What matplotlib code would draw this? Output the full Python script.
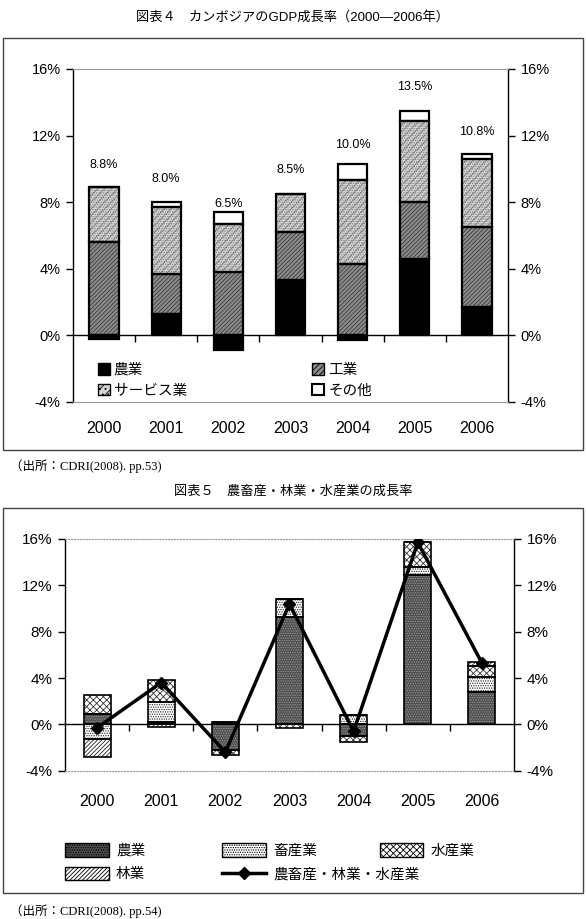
import matplotlib
matplotlib.use("Agg")
import matplotlib.pyplot as plt
from matplotlib.patches import Rectangle, Patch
from matplotlib.lines import Line2D

plt.rcParams['font.family'] = ['Liberation Sans', 'Noto Sans CJK JP']
plt.rcParams['hatch.linewidth'] = 0.6

years = ["2000", "2001", "2002", "2003", "2004", "2005", "2006"]
y_ticks = [-4, 0, 4, 8, 12, 16]

# 図表4: contributions to GDP growth (%)
gdp_agri = [-0.2, 1.3, -0.9, 3.3, -0.3, 4.6, 1.7]
gdp_industry = [5.6, 2.4, 3.8, 2.9, 4.3, 3.4, 4.8]
gdp_services = [3.3, 4.0, 2.9, 2.3, 5.0, 4.9, 4.1]
gdp_other = [0.0, 0.3, 0.7, 0.0, 1.0, 0.6, 0.3]
gdp_total = [8.8, 8.0, 6.5, 8.5, 10.0, 13.5, 10.8]
gdp_labels = ["8.8%", "8.0%", "6.5%", "8.5%", "10.0%", "13.5%", "10.8%"]

# 図表5: agriculture, livestock, forestry, fishery growth (%)
crops = [0.9, 0.2, -2.2, 9.3, -1.0, 12.9, 2.8]
livestock = [-1.3, 1.75, 0.2, 1.5, 0.8, 0.7, 1.3]
fishery = [1.6, 1.85, -0.45, -0.3, -0.5, 2.15, 0.9]
forestry = [-1.5, -0.2, 0.0, 0.0, 0.0, 0.0, 0.4]
primary_total = [-0.3, 3.6, -2.4, 10.4, -0.6, 15.7, 5.3]


def stacked(ax, x, series, styles, width, edge_lw):
    pos = [0.0] * len(x)
    neg = [0.0] * len(x)
    for vals, (face, hatch, hcol) in zip(series, styles):
        bottoms = [pos[i] if v >= 0 else neg[i] for i, v in enumerate(vals)]
        ax.bar(x, vals, width, bottom=bottoms, color=face, hatch=hatch,
               edgecolor=hcol, linewidth=0, zorder=2)
        ax.bar(x, vals, width, bottom=bottoms, fill=False,
               edgecolor='black', linewidth=edge_lw, zorder=3)
        for i, v in enumerate(vals):
            if v >= 0:
                pos[i] += v
            else:
                neg[i] += v


def frame_axes(ax, top_style):
    ax.set_xlim(-0.5, len(years) - 0.5)
    ax.set_ylim(-4, 16)
    ax.set_yticks(y_ticks)
    ax.set_yticklabels([f"{v}%" for v in y_ticks])
    ax.yaxis.set_ticks_position('both')
    ax.tick_params(axis='y', direction='out', length=5, width=1,
                   labelleft=True, labelright=True, pad=4)
    ax.set_xticks(range(len(years)))
    ax.set_xticklabels(years)
    for s in ['left', 'right']:
        ax.spines[s].set_color('black')
        ax.spines[s].set_linewidth(1)
    for s in ['top', 'bottom']:
        ax.spines[s].set_color('#999999')
        ax.spines[s].set_linewidth(0.8)
        ax.spines[s].set_linestyle(top_style)
    # category axis crossing at 0%
    zero = ax.secondary_xaxis(0.2)
    zero.set_xticks([i + 0.5 for i in range(len(years) - 1)])
    zero.tick_params(direction='out', length=5, width=1, labelbottom=False)
    zero.spines['bottom'].set_color('black')
    zero.spines['bottom'].set_linewidth(1)


fig = plt.figure(figsize=(5.86, 9.19), dpi=100)
x = list(range(len(years)))

# ---------------- 図表4 ----------------
fig.text(0.5, 0.9815, "図表４　カンボジアのGDP成長率（2000―2006年）",
         ha='center', va='center', fontsize=9.5)
fig.add_artist(Rectangle((0.005, 0.5103), 0.99, 0.4484, transform=fig.transFigure,
                         fill=False, edgecolor='#444444', linewidth=1))

ax1 = fig.add_axes([0.1246, 0.5626, 0.7423, 0.3624])
ind_style = ('#8c8c8c', '////////', '#3a3a3a')
srv_style = ('#d4d4d4', '/////.......', '#808080')
styles1 = [('black', None, 'black'), ind_style, srv_style, ('white', None, 'white')]
stacked(ax1, x, [gdp_agri, gdp_industry, gdp_services, gdp_other], styles1, 0.47, 1.6)
frame_axes(ax1, 'solid')
ax1.tick_params(axis='y', labelsize=10.5)
ax1.tick_params(axis='x', length=0, pad=14, labelsize=11.5)
for i, (v, lab) in enumerate(zip(gdp_total, gdp_labels)):
    ax1.annotate(lab, (i, v), xytext=(0, 17), textcoords='offset points',
                 ha='center', va='center', fontsize=9)

h1 = [Patch(facecolor='black', edgecolor='black', label='農業'),
      Patch(facecolor=srv_style[0], hatch='///...', edgecolor='black', label='サービス業'),
      Patch(facecolor=ind_style[0], hatch='//////', edgecolor='black', label='工業'),
      Patch(facecolor='white', edgecolor='black', linewidth=1.5, label='その他')]
ax1.legend(handles=h1, ncol=2, loc='upper left', bbox_to_anchor=(0.167, 0.605),
           bbox_transform=fig.transFigure, frameon=False, fontsize=10.5,
           handlelength=0.8, handleheight=0.8, handletextpad=0.3,
           labelspacing=0.45, columnspacing=8.6, borderpad=0, borderaxespad=0)

fig.text(0.017, 0.493, "（出所：CDRI(2008). pp.53)", ha='left', va='center',
         fontsize=9, family=['Liberation Serif', 'Noto Sans CJK JP'])

# ---------------- 図表5 ----------------
fig.text(0.5, 0.4646, "図表５　農畜産・林業・水産業の成長率",
         ha='center', va='center', fontsize=9.5)
fig.add_artist(Rectangle((0.005, 0.028), 0.99, 0.4192, transform=fig.transFigure,
                         fill=False, edgecolor='#444444', linewidth=1))

ax2 = fig.add_axes([0.1109, 0.1614, 0.7662, 0.2521])
st_crops = ('#4e4e4e', '.......', '#9a9a9a')
st_live = ('white', '.......', '#222222')
st_fish = ('white', 'xxxxx', '#333333')
st_forest = ('white', '////////', '#222222')
stacked(ax2, x, [crops, livestock, fishery, forestry],
        [st_crops, st_live, st_fish, st_forest], 0.42, 1.2)
ax2.plot(x, primary_total, color='black', linewidth=2.5, marker='D',
         markersize=6, zorder=5)
frame_axes(ax2, 'dotted')
ax2.tick_params(axis='y', labelsize=11)
ax2.tick_params(axis='x', length=0, pad=17, labelsize=11.5)


def swatch(st, label):
    return Patch(facecolor=st[0], hatch=st[1], edgecolor='black', linewidth=1, label=label)


leg_kw = dict(frameon=False, fontsize=10.5, handlelength=3.0, handleheight=1.05,
              handletextpad=0.5, labelspacing=0.6, borderpad=0, borderaxespad=0,
              loc='upper left')
line_h = Line2D([], [], color='black', linewidth=2.5, marker='D', markersize=6,
                label='農畜産・林業・水産業')
fig.legend(handles=[swatch(st_crops, '農業'), swatch(st_forest, '林業')],
           bbox_to_anchor=(0.111, 0.0825), **leg_kw)
fig.legend(handles=[swatch(st_live, '畜産業'), line_h],
           bbox_to_anchor=(0.379, 0.0825), **leg_kw)
fig.legend(handles=[swatch(st_fish, '水産業')],
           bbox_to_anchor=(0.648, 0.0825), **leg_kw)

fig.text(0.017, 0.0087, "（出所：CDRI(2008). pp.54)", ha='left', va='center',
         fontsize=9, family=['Liberation Serif', 'Noto Sans CJK JP'])

plt.savefig("out.png", dpi=100)
